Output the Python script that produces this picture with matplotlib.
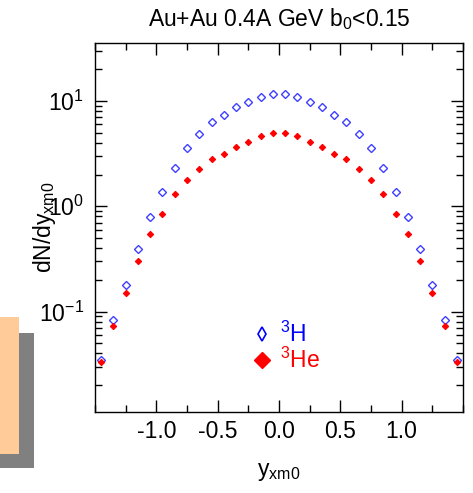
import matplotlib
matplotlib.use("Agg")
import matplotlib.pyplot as plt
from matplotlib.lines import Line2D
from matplotlib.patches import Rectangle
from matplotlib.ticker import LogLocator, MultipleLocator, FixedLocator

plt.rcParams['font.family'] = ['Liberation Sans', 'DejaVu Sans']
plt.rcParams['mathtext.fontset'] = 'custom'
plt.rcParams['mathtext.rm'] = 'Liberation Sans'
plt.rcParams['mathtext.it'] = 'Liberation Sans:italic'

# rapidity bins
y_xm0 = [-1.45, -1.35, -1.25, -1.15, -1.05, -0.95, -0.85, -0.75, -0.65, -0.55,
         -0.45, -0.35, -0.25, -0.15, -0.05, 0.05, 0.15, 0.25, 0.35, 0.45,
         0.55, 0.65, 0.75, 0.85, 0.95, 1.05, 1.15, 1.25, 1.35, 1.45]

# 3H (triton)
dn_h3 = [0.0347, 0.0832, 0.180, 0.393, 0.79, 1.36, 2.33, 3.55, 4.88, 6.38,
         7.43, 8.80, 9.85, 11.0, 11.7, 11.7, 11.0, 9.85, 8.80, 7.43,
         6.38, 4.88, 3.55, 2.33, 1.36, 0.79, 0.393, 0.180, 0.0832, 0.0347]

# 3He
dn_he3 = [0.0332, 0.0724, 0.150, 0.303, 0.542, 0.851, 1.30, 1.79, 2.28, 2.79,
          3.14, 3.68, 4.11, 4.65, 5.00, 5.00, 4.65, 4.11, 3.68, 3.14,
          2.79, 2.28, 1.79, 1.30, 0.851, 0.542, 0.303, 0.150, 0.0724, 0.0332]

x_ticks = [-1.0, -0.5, 0.0, 0.5, 1.0]

blau = '#3f3fff'
rojo = '#ff0000'

fig = plt.figure(figsize=(4.73, 4.93), dpi=100)

# recuadro decorativo abajo a la izquierda
fig.patches.append(Rectangle((0, 0.0507), 0.0719, 0.274, transform=fig.transFigure,
                             facecolor='#808080', edgecolor='none', zorder=0))
fig.patches.append(Rectangle((0, 0.0791), 0.0402, 0.278, transform=fig.transFigure,
                             facecolor='#ffcc99', edgecolor='none', zorder=1))

ax = fig.add_axes([0.2008, 0.1643, 0.7781, 0.7485])

ax.plot(y_xm0, dn_h3, linestyle='none', marker='D', ms=4.3, mfc='none',
        mec=blau, mew=1.0)
ax.plot(y_xm0, dn_he3, linestyle='none', marker='D', ms=3.2, mfc=rojo,
        mec=rojo, mew=0.8)

ax.set_yscale('log')
ax.set_xlim(-1.5, 1.5)
ax.set_ylim(0.0111, 35.6)

ax.xaxis.set_major_locator(FixedLocator(x_ticks))
ax.xaxis.set_minor_locator(MultipleLocator(0.25))
ax.xaxis.set_major_formatter(plt.FuncFormatter(lambda v, p: f"{v:.1f}"))
ax.yaxis.set_major_locator(LogLocator(base=10, numticks=10))
ax.yaxis.set_minor_locator(LogLocator(base=10, subs=range(2, 10), numticks=20))

ax.tick_params(which='both', direction='in', top=True, right=True, width=1.0)
ax.tick_params(which='major', length=8.6)
ax.tick_params(which='minor', length=5)
ax.tick_params(axis='x', which='major', labelsize=16.5, pad=6)
ax.tick_params(axis='y', which='major', labelsize=16.5, pad=8)
for s in ax.spines.values():
    s.set_linewidth(1.0)

ax.set_title(r"Au+Au 0.4A GeV b$_0$<0.15", fontsize=16.5, pad=12)
ax.set_xlabel(r"y$_{\mathrm{xm0}}$", fontsize=16.5, labelpad=12)
ax.set_ylabel(r"dN/dy$_{\mathrm{xm0}}$", fontsize=16.5, labelpad=-14)

handles = [Line2D([], [], linestyle='none', marker='d', ms=7.6, mfc='none',
                  mec='blue', mew=1.2),
           Line2D([], [], linestyle='none', marker='D', ms=8.5, mfc=rojo, mec=rojo)]
ley = ax.legend(handles, [r"$^{3}$H", r"$^{3}$He"], loc='center',
                bbox_to_anchor=(0.52, 0.175), frameon=False, fontsize=16.5,
                handlelength=0.8, handletextpad=0.4, labelspacing=0.05,
                borderaxespad=0)
for t, c in zip(ley.get_texts(), ['blue', rojo]):
    t.set_color(c)

fig.savefig('out.png', dpi=100)
